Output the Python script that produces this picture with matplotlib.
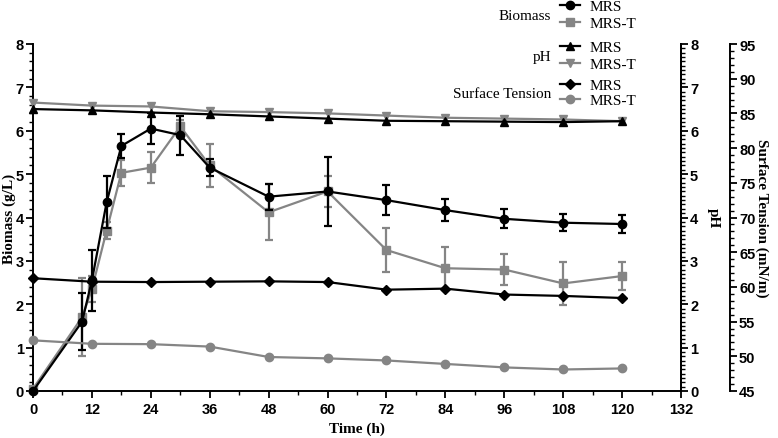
import matplotlib
matplotlib.use('Agg')
import matplotlib.pyplot as plt
from matplotlib.lines import Line2D
from matplotlib.ticker import MultipleLocator

# biomass (g/L)
t_bio = [0, 10, 12, 15, 18, 24, 30, 36, 48, 60, 72, 84, 96, 108, 120]
bio_mrs = [0.0, 1.6, 2.55, 4.35, 5.65, 6.05, 5.9, 5.15, 4.48, 4.6, 4.4, 4.17, 3.97, 3.88, 3.85]
bio_mrs_err = [0.0, 0.65, 0.7, 0.6, 0.27, 0.35, 0.45, 0.2, 0.3, 0.8, 0.35, 0.25, 0.22, 0.2, 0.2]
bio_mrst = [0.05, 1.7, 2.35, 3.7, 5.03, 5.15, 6.1, 5.2, 4.12, 4.6, 3.25, 2.83, 2.8, 2.48, 2.65]
bio_mrst_err = [0.0, 0.9, 0.3, 0.2, 0.3, 0.35, 0.15, 0.5, 0.65, 0.35, 0.5, 0.5, 0.35, 0.5, 0.32]

# pH and surface tension
t_ph = [0, 12, 24, 36, 48, 60, 72, 84, 96, 108, 120]
ph_mrs = [6.5, 6.47, 6.42, 6.38, 6.33, 6.28, 6.23, 6.22, 6.21, 6.2, 6.22]
ph_mrst = [6.65, 6.58, 6.56, 6.45, 6.43, 6.4, 6.35, 6.3, 6.28, 6.26, 6.22]
st_mrs = [61.25, 60.75, 60.7, 60.75, 60.8, 60.7, 59.6, 59.75, 58.9, 58.7, 58.4]
st_mrst = [52.3, 51.8, 51.75, 51.4, 49.9, 49.7, 49.4, 48.9, 48.4, 48.1, 48.25]

x_ticks = list(range(0, 133, 12))

BLACK = '#000000'
GRAY = '#858585'
tick_family = ['Liberation Sans Narrow', 'Liberation Sans']
label_font = {'family': 'Liberation Serif', 'weight': 'bold', 'size': 11}

W, H = 778, 439
fig = plt.figure(figsize=(W / 100, H / 100), dpi=100)
ax = fig.add_axes([33 / W, 1 - 392 / H, 648 / W, 347 / H])
ax_ph = ax.twinx()
ax_st = ax.twinx()
ax_st.spines['right'].set_position(('axes', 1.0756))

for a in (ax, ax_ph, ax_st):
    a.spines['top'].set_visible(False)
    for s in a.spines.values():
        s.set_linewidth(1.4)
for a in (ax_ph, ax_st):
    a.spines['left'].set_visible(False)
    a.spines['bottom'].set_visible(False)

ms = 6
ax.errorbar(t_bio, bio_mrst, yerr=bio_mrst_err, color=GRAY, marker='s', ms=ms, lw=1.6,
            capsize=3, elinewidth=1.6, capthick=1.6, clip_on=False, zorder=3)
ax.errorbar(t_bio, bio_mrs, yerr=bio_mrs_err, color=BLACK, marker='o', ms=ms, lw=1.6,
            capsize=3, elinewidth=1.6, capthick=1.6, clip_on=False, zorder=4)

ax_ph.plot(t_ph, ph_mrst, color=GRAY, marker='v', ms=ms, lw=1.6, clip_on=False)
ax_ph.plot(t_ph, ph_mrs, color=BLACK, marker='^', ms=ms, lw=1.6, clip_on=False)

ax_st.plot(t_ph, st_mrst, color=GRAY, marker='o', ms=ms, lw=1.6, clip_on=False)
ax_st.plot(t_ph, st_mrs, color=BLACK, marker='D', ms=5, lw=1.6, clip_on=False)

ax.set_xlim(0, 132)
ax.set_ylim(0, 8)
ax_ph.set_ylim(0, 8)
ax_st.set_ylim(45, 95)

ax.set_xticks(x_ticks)
ax.xaxis.set_minor_locator(MultipleLocator(6))
ax.yaxis.set_major_locator(MultipleLocator(1))
ax.yaxis.set_minor_locator(MultipleLocator(0.2))
ax_ph.yaxis.set_major_locator(MultipleLocator(1))
ax_ph.yaxis.set_minor_locator(MultipleLocator(0.1))
ax_st.yaxis.set_major_locator(MultipleLocator(5))
ax_st.yaxis.set_minor_locator(MultipleLocator(1))

for a in (ax, ax_ph, ax_st):
    a.tick_params(which='major', length=5, width=1.3, direction='out', pad=1.5)
    a.tick_params(which='minor', length=3, width=1.0, direction='out')
    for lab in a.get_xticklabels() + a.get_yticklabels():
        lab.set_fontfamily(tick_family)
        lab.set_fontweight('bold')
        lab.set_fontsize(10.5)
ax.tick_params(axis='x', which='major', pad=3)

ax.set_xlabel('Time (h)', fontdict=label_font, labelpad=4)
ax.set_ylabel('Biomass (g/L)', fontdict=label_font, va='center')
ax.yaxis.set_label_coords(-0.037, 0.5)
ax_ph.set_ylabel('pH', fontdict=label_font, rotation=270, va='center')
ax_ph.yaxis.set_label_coords(1.05, 0.5)
ax_st.set_ylabel('Surface Tension (mN/m)', fontdict=label_font, rotation=270, va='center')
ax_st.yaxis.set_label_coords(1.125, 0.5)

# grouped legend (figure pixel positions)
leg_font = {'family': 'Liberation Serif', 'size': 11}
groups = [
    ('Biomass', 15, [('o', 6, BLACK, 'MRS', 6), ('s', 6, GRAY, 'MRS-T', 23)]),
    ('pH', 56, [('^', 6, BLACK, 'MRS', 47), ('v', 6, GRAY, 'MRS-T', 64)]),
    ('Surface Tension', 93, [('D', 5, BLACK, 'MRS', 85), ('o', 6, GRAY, 'MRS-T', 100)]),
]
for title, ty, entries in groups:
    fig.text(551 / W, 1 - ty / H, title, ha='right', va='center_baseline', fontdict=leg_font)
    for m, msz, c, lab, py in entries:
        fy = 1 - py / H
        fig.add_artist(Line2D([560 / W, 580 / W], [fy, fy], color=c, lw=1.6,
                              transform=fig.transFigure))
        fig.add_artist(Line2D([570 / W], [fy], color=c, marker=m, ms=msz, lw=0,
                              transform=fig.transFigure))
        fig.text(590 / W, fy, lab, ha='left', va='center_baseline', fontdict=leg_font)

fig.savefig('out.png', dpi=100)
